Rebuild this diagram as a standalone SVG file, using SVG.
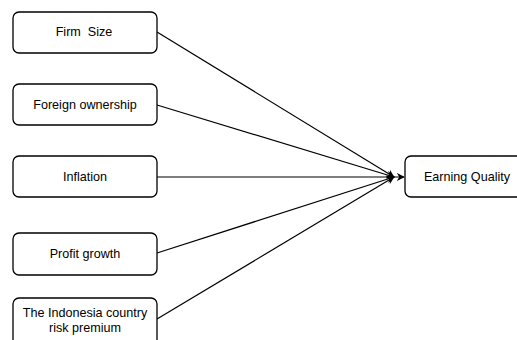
<svg xmlns="http://www.w3.org/2000/svg" width="517" height="340" viewBox="0 0 517 340">
<style>
.box{fill:#fff;stroke:#000;stroke-width:1.3}
.t{font-family:"Liberation Sans",Arial,sans-serif;font-size:12.6px;fill:#000;text-anchor:middle;dominant-baseline:central}
.e{stroke:#000;stroke-width:1.2;fill:none}
</style>
<defs>
<marker id="ah" viewBox="0 0 10 10" refX="9" refY="5" markerWidth="8" markerHeight="8" markerUnits="userSpaceOnUse" orient="auto">
<path d="M0,0 L10,5 L0,10 L3,5 Z" fill="#000"/>
</marker>
</defs>
<rect width="517" height="340" fill="#fff"/>
<g id="connectors">
<line class="e" x1="157" y1="32" x2="394" y2="177" marker-end="url(#ah)"/>
<line class="e" x1="157" y1="105" x2="394" y2="177" marker-end="url(#ah)"/>
<line class="e" x1="157" y1="253" x2="394" y2="177" marker-end="url(#ah)"/>
<line class="e" x1="157" y1="319" x2="394" y2="177" marker-end="url(#ah)"/>
<line class="e" x1="157" y1="177" x2="404" y2="177" marker-end="url(#ah)"/>
</g>
<g id="firm-size"><rect class="box" x="13" y="12" width="144" height="41" rx="6"/><text class="t" x="84" y="32" xml:space="preserve">Firm  Size</text></g>
<g id="foreign-ownership"><rect class="box" x="13" y="84" width="144" height="41" rx="6"/><text class="t" x="85" y="105">Foreign ownership</text></g>
<g id="inflation"><rect class="box" x="13" y="156" width="144" height="41" rx="6"/><text class="t" x="85" y="177">Inflation</text></g>
<g id="profit-growth"><rect class="box" x="13" y="233" width="144" height="42" rx="6"/><text class="t" x="85" y="254">Profit growth</text></g>
<g id="indonesia-crp"><rect class="box" x="13" y="298" width="144" height="48" rx="6"/><text class="t" x="85" y="313">The Indonesia country</text><text class="t" x="85" y="328">risk premium</text></g>
<g id="earning-quality"><rect class="box" x="405" y="156" width="124" height="41" rx="6"/><text class="t" x="467" y="177">Earning Quality</text></g>
</svg>
